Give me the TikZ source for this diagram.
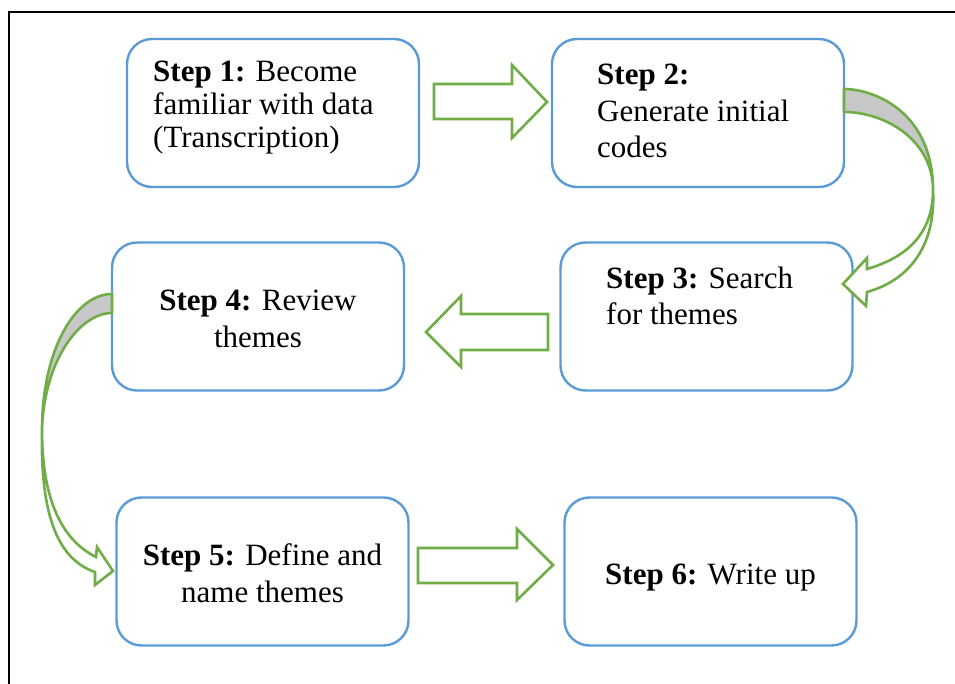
\documentclass[tikz,border=0pt]{standalone}
\usepackage{fontspec}
\setmainfont{Liberation Serif}
\definecolor{boxblue}{RGB}{91,155,213}
\definecolor{arrgreen}{RGB}{112,173,71}
\definecolor{arrgray}{RGB}{200,200,200}
\tikzset{
  stepbox/.style={draw=boxblue, line width=2.4pt, rounded corners=25pt, fill=white,
    minimum width=292pt, minimum height=148pt, inner sep=0pt},
  steptext/.style={inner sep=0pt, font=\fontsize{31}{36}\selectfont},
  blockarrow/.style={draw=arrgreen, line width=2.6pt, fill=white, line join=miter},
  bandback/.style={draw=arrgreen, line width=2.6pt, fill=arrgray, line join=round},
  framel/.style={draw=black, line width=1.8pt}
}
\begin{document}
\begin{tikzpicture}[x=1pt,y=-1pt]
\useasboundingbox (0,0) rectangle (955,684);
\fill[white] (0,0) rectangle (955,684);
% frame
\draw[framel] (9,684) -- (9,12) -- (955,12);

% boxes
\node[stepbox] (s1) at (273,113) {};
\node[stepbox] (s2) at (698,113) {};
\node[stepbox] (s3) at (706.5,316.5) {};
\node[stepbox] (s4) at (258,316.5) {};
\node[stepbox] (s5) at (262.5,571.5) {};
\node[stepbox] (s6) at (710.5,571.5) {};

% texts
\node[steptext, anchor=base west] (t1) at (153,82)
  {\parbox[t]{280pt}{\fontsize{31}{33}\selectfont\raggedright\textbf{Step 1:} Become\\familiar with data\\(Transcription)}};
\node[steptext, anchor=base west] (t2) at (597,85)
  {\parbox[t]{240pt}{\fontsize{31}{36.5}\selectfont\raggedright\textbf{Step 2:}\\Generate initial\\codes}};
\node[steptext, anchor=base west] (t3) at (606,289)
  {\parbox[t]{240pt}{\fontsize{31}{36}\selectfont\raggedright\textbf{Step 3:} Search\\for themes}};
\node[steptext, anchor=base] (t4) at (258,311)
  {\parbox[t]{280pt}{\fontsize{31}{36}\selectfont\centering\textbf{Step 4:} Review\\themes}};
\node[steptext, anchor=base] (t5) at (262.5,565)
  {\parbox[t]{280pt}{\fontsize{31}{37}\selectfont\centering\textbf{Step 5:} Define and\\name themes}};
\node[steptext, anchor=base] (t6) at (710.5,584) {\textbf{Step 6:} Write up};

% straight block arrows
\draw[blockarrow] (434,84) -- (512,84) -- (512,65) -- (547,102) -- (512,138) -- (512,119) -- (434,119) -- cycle;
\draw[blockarrow] (548,314) -- (461,314) -- (461,296) -- (426,332) -- (461,367) -- (461,350) -- (548,350) -- cycle;
\draw[blockarrow] (418,548) -- (517,548) -- (517,529) -- (553,565) -- (517,600) -- (517,583) -- (418,583) -- cycle;

% curved arrow step 2 -> step 3
\draw[bandback] (844,89) .. controls (874,89) and (933,112) .. (933,190)
  .. controls (933,140) and (885,112) .. (844,112) -- cycle;
\draw[blockarrow] (933,190) .. controls (933,235) and (905,258) .. (867,269)
  -- (867,258) -- (843,284) -- (866,306) -- (867,292)
  .. controls (910,280) and (936,245) .. (933,190) -- cycle;

% curved arrow step 4 -> step 5
\draw[bandback] (112,294) .. controls (75,294) and (42,350) .. (42,430)
  .. controls (44,360) and (80,313) .. (112,313) -- cycle;
\draw[blockarrow] (42,430) .. controls (42,500) and (62,540) .. (96,557)
  -- (97,547) -- (113,571) -- (95,585) -- (95,572)
  .. controls (60,560) and (40,520) .. (42,430) -- cycle;
\end{tikzpicture}
\end{document}
